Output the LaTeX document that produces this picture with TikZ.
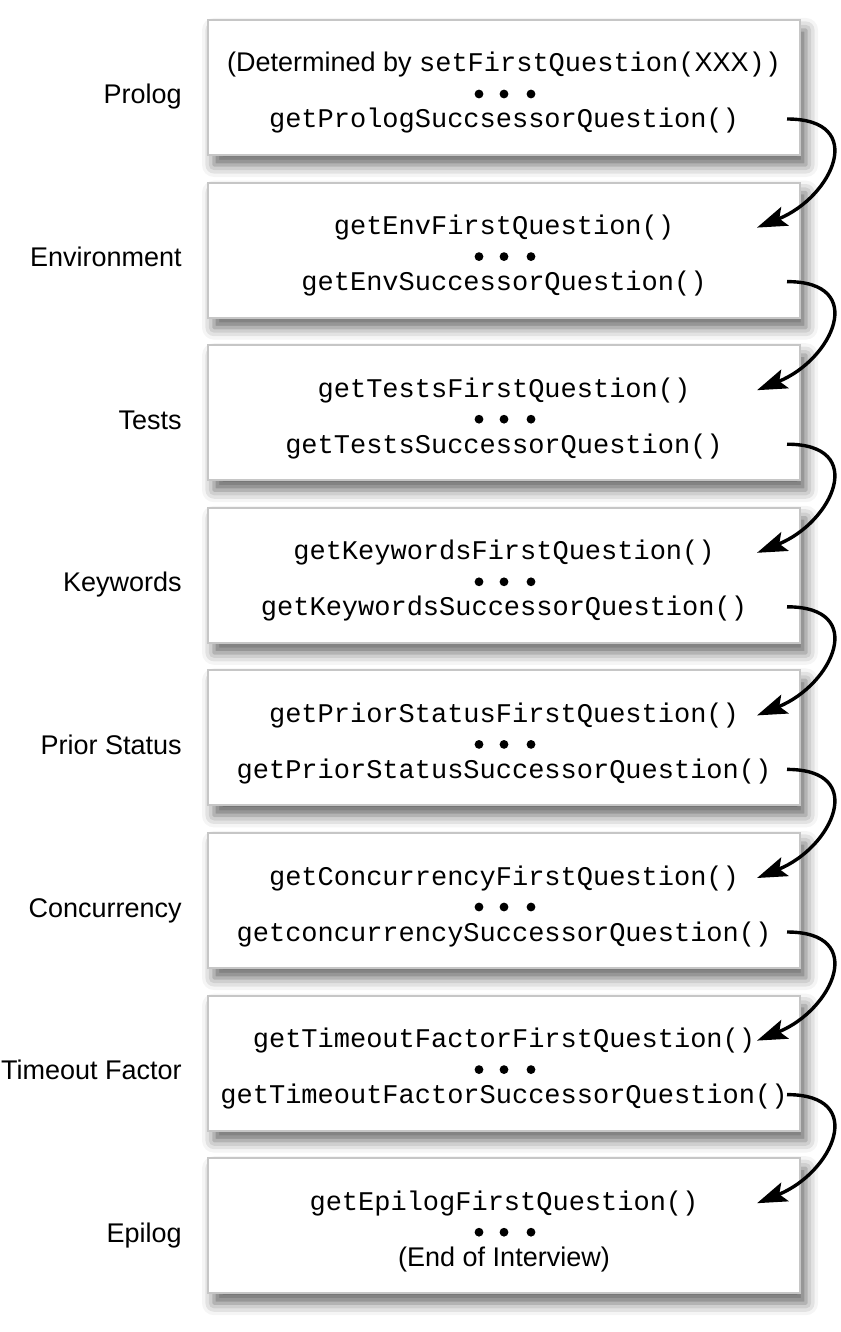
\documentclass[tikz,border=0pt]{standalone}
\usepackage{fontspec}
\setmainfont{Liberation Sans}
\setmonofont{Liberation Mono}
\usetikzlibrary{arrows.meta,shadows.blur,calc}
\definecolor{qBorder}{HTML}{C6C6C6}
\newcommand\qfont{\fontsize{13.5}{16}\selectfont}
\tikzset{
    every picture/.style={x=0.5pt,y=-0.5pt},
    % question boxes, one per section
    qbox/.style={draw=qBorder,line width=1pt,fill=white,minimum width=296pt,minimum height=67.5pt,inner sep=0pt,
        blur shadow={shadow xshift=3pt,shadow yshift=-5pt,shadow blur radius=6pt,shadow opacity=60}},
    qline/.style={font=\qfont,anchor=base,inner sep=0pt},
    qlabel/.style={font=\qfont,anchor=base east,inner sep=0pt},
    % flow from one section to the next
    hop/.style={-{Stealth[length=15pt,width=10pt,inset=3pt]},line width=1.7pt,out=0,in=22,looseness=1.85}
}
\begin{document}
\begin{tikzpicture}
    \useasboundingbox (0,0) rectangle (840,1332);
    % Sections
    \foreach \i/\lab/\first/\succ in {
        0/Prolog/{(Determined by \texttt{setFirstQuestion(}XXX\texttt{))}}/{\texttt{getPrologSuccsessorQuestion()}},
        1/Environment/{\texttt{getEnvFirstQuestion()}}/{\texttt{getEnvSuccessorQuestion()}},
        2/Tests/{\texttt{getTestsFirstQuestion()}}/{\texttt{getTestsSuccessorQuestion()}},
        3/Keywords/{\texttt{getKeywordsFirstQuestion()}}/{\texttt{getKeywordsSuccessorQuestion()}},
        4/Prior Status/{\texttt{getPriorStatusFirstQuestion()}}/{\texttt{getPriorStatusSuccessorQuestion()}},
        5/Concurrency/{\texttt{getConcurrencyFirstQuestion()}}/{\texttt{getconcurrencySuccessorQuestion()}},
        6/Timeout Factor/{\texttt{getTimeoutFactorFirstQuestion()}}/{\texttt{getTimeoutFactorSuccessorQuestion()}},
        7/Epilog/{\texttt{getEpilogFirstQuestion()}}/{(End of Interview)}}{
        \pgfmathsetmacro\T{20+162.6*\i}
        \node[qbox] (box\i) at (504,\T+67.5) {};
        \node[qline] (first\i) at (504,\T+52) {\first};
        \node[qline] (succ\i) at (504,\T+108) {\succ};
        \node[qlabel] (lab\i) at (182,\T+84) {\lab};
        \foreach \dx in {-25,0,27}
            \fill ($(504,\T+74)+(\dx,0)$) circle[radius=2.2pt];
        \coordinate (out\i) at (787,\T+99);
        \coordinate (in\i) at (757,\T+45);
    }
    % Arrows between sections
    \foreach \i [evaluate=\i as \j using int(\i+1)] in {0,...,6}
        \draw[hop] (out\i) to (in\j);
\end{tikzpicture}
\end{document}
